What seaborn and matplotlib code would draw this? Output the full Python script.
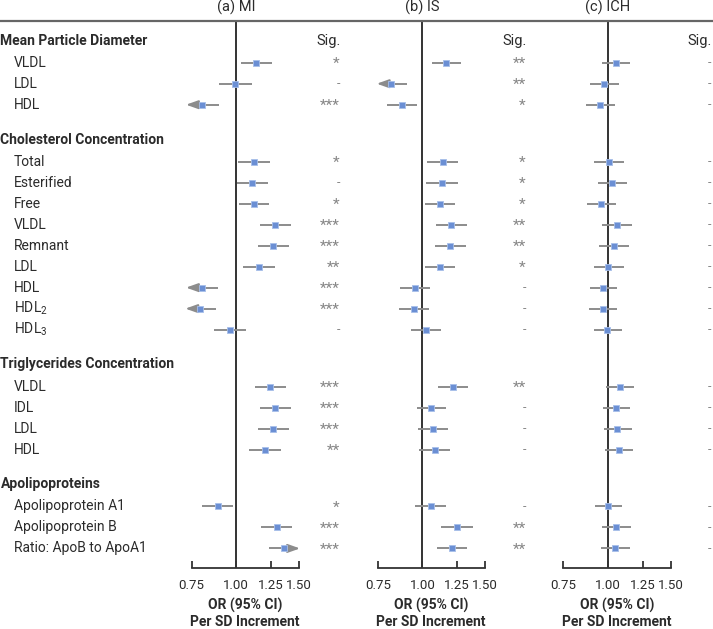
import numpy as np
import pandas as pd
import matplotlib
matplotlib.use("Agg")
import matplotlib.pyplot as plt
import matplotlib.transforms as mtransforms
from matplotlib.lines import Line2D
from matplotlib.ticker import NullLocator
import seaborn as sns

sns.set_theme(style="white")
plt.rcParams['font.family'] = ['Roboto', 'DejaVu Sans']
plt.rcParams['mathtext.fontset'] = 'custom'
plt.rcParams['mathtext.rm'] = 'Roboto'

# --- data -------------------------------------------------------------------
group_names = ["Mean Particle Diameter", "Cholesterol Concentration",
               "Triglycerides Concentration", "Apolipoproteins"]
group_sizes = [3, 9, 4, 3]
item_labels = ["VLDL", "LDL", "HDL",
               "Total", "Esterified", "Free", "VLDL", "Remnant", "LDL", "HDL",
               r"HDL$_{\mathrm{2}}$", r"HDL$_{\mathrm{3}}$",
               "VLDL", "IDL", "LDL", "HDL",
               "Apolipoprotein A1", "Apolipoprotein B", "Ratio: ApoB to ApoA1"]
panel_titles = ["(a) MI", "(b) IS", "(c) ICH"]

mi_or = [1.133, 0.990, 0.800,
         1.123, 1.107, 1.119, 1.284, 1.267, 1.155, 0.800, 0.791, 0.958,
         1.245, 1.286, 1.267, 1.203,
         0.887, 1.297, 1.363]
mi_lo = [1.029, 0.894, 0.723,
         1.011, 1.005, 1.020, 1.165, 1.148, 1.044, 0.723, 0.720, 0.868,
         1.130, 1.165, 1.148, 1.088,
         0.803, 1.170, 1.237]
mi_hi = [1.257, 1.104, 0.894,
         1.245, 1.227, 1.232, 1.420, 1.402, 1.281, 0.887, 0.877, 1.063,
         1.375, 1.420, 1.402, 1.332,
         0.981, 1.435, 1.508]
mi_sig = ["*", "-", "***",
          "*", "-", "*", "***", "***", "**", "***", "***", "-",
          "***", "***", "***", "**",
          "*", "***", "***"]

is_or = [1.167, 0.817, 0.877,
         1.140, 1.135, 1.118, 1.206, 1.195, 1.121, 0.954, 0.946, 1.024,
         1.219, 1.060, 1.069, 1.083,
         1.055, 1.247, 1.208]
is_lo = [1.067, 0.745, 0.798,
         1.031, 1.026, 1.017, 1.094, 1.083, 1.017, 0.866, 0.860, 0.932,
         1.106, 0.966, 0.970, 0.981,
         0.956, 1.130, 1.097]
is_hi = [1.280, 0.904, 0.968,
         1.255, 1.255, 1.234, 1.331, 1.322, 1.237, 1.053, 1.042, 1.130,
         1.342, 1.167, 1.177, 1.192,
         1.162, 1.383, 1.336]
is_sig = ["**", "**", "*",
          "*", "*", "*", "**", "**", "*", "-", "-", "-",
          "**", "-", "-", "-",
          "-", "**", "**"]

ich_or = [1.051, 0.974, 0.950,
          1.006, 1.028, 0.958, 1.058, 1.039, 1.002, 0.968, 0.968, 0.996,
          1.080, 1.053, 1.062, 1.074,
          1.000, 1.053, 1.048]
ich_lo = [0.962, 0.890, 0.869,
          0.916, 0.937, 0.873, 0.962, 0.944, 0.914, 0.889, 0.885, 0.912,
          0.985, 0.966, 0.972, 0.979,
          0.918, 0.960, 0.954]
ich_hi = [1.150, 1.071, 1.044,
          1.109, 1.128, 1.053, 1.165, 1.143, 1.106, 1.060, 1.060, 1.092,
          1.185, 1.155, 1.165, 1.177,
          1.094, 1.162, 1.155]
ich_sig = ["-"] * 19

panels = [(mi_or, mi_lo, mi_hi, mi_sig),
          (is_or, is_lo, is_hi, is_sig),
          (ich_or, ich_lo, ich_hi, ich_sig)]

# --- layout -----------------------------------------------------------------
W, H = 713, 629
TOP_PX, BOT_PX = 21, 568
PX_PER_LN = 155.0
XMIN, XMAX = 0.70, 1.60
one_px = [236.3, 422.4, 608.0]

txt = '#2b2b2b'
sq_color = '#6b8fd4'
ci_color = '#8c8c8c'

# row positions: 1 unit per row, extra gap between groups
ypos, head_y = [], []
y = 0.0
for k, n in enumerate(group_sizes):
    if k > 0:
        y += 1.71
    head_y.append(y - 1.05)
    for i in range(n):
        ypos.append(y)
        y += 1
ylim = ((BOT_PX - 62.7) / 21.0, (TOP_PX - 62.7) / 21.0)

fig = plt.figure(figsize=(W / 100, H / 100), dpi=100)

axes = []
for p, (vals, lo, hi, sig) in enumerate(panels):
    left = one_px[p] + PX_PER_LN * np.log(XMIN)
    width = PX_PER_LN * np.log(XMAX / XMIN)
    ax = fig.add_axes([left / W, 1 - BOT_PX / H, width / W, (BOT_PX - TOP_PX) / H])
    ax.patch.set_alpha(0)
    axes.append(ax)

    df = pd.DataFrame({'y': ypos, 'OR': vals, 'lo': lo, 'hi': hi, 'sig': sig})

    # confidence intervals, arrows where they leave the 0.75-1.50 range
    for _, r in df.iterrows():
        a = r['lo'] if r['lo'] >= 0.75 else r['OR']
        b = r['hi'] if r['hi'] <= 1.5 else r['OR']
        ax.hlines(r['y'], a, b, color=ci_color, lw=1.4, zorder=2)
        for end, out in ((r['lo'], r['lo'] < 0.75), (r['hi'], r['hi'] > 1.5)):
            if out:
                ax.annotate('', xy=(end, r['y']), xytext=(r['OR'], r['y']),
                            arrowprops=dict(arrowstyle='-|>,head_length=0.9,head_width=0.32',
                                            color=ci_color, lw=1.4, shrinkA=0, shrinkB=0,
                                            mutation_scale=8), zorder=2)

    ax.axvline(1.0, color='#333333', lw=1.4, zorder=1)
    sns.scatterplot(data=df, x='OR', y='y', marker='s', s=24, color=sq_color,
                    edgecolor='#a8bfe9', linewidth=0.6, ax=ax, zorder=3, legend=False)

    ax.set_xscale('log')
    ax.set_xlim(XMIN, XMAX)
    ax.set_ylim(*ylim)
    for s in ['left', 'top', 'right']:
        ax.spines[s].set_visible(False)
    ax.spines['bottom'].set_bounds(0.75, 1.5)
    ax.spines['bottom'].set_color('#333333')
    ax.spines['bottom'].set_linewidth(1.3)
    ax.set_yticks([])
    ax.set_ylabel('')
    ax.set_xticks([0.75, 1.0, 1.25, 1.5])
    ax.set_xticklabels(['0.75', '1.00', '1.25', '1.50'])
    ax.xaxis.set_minor_locator(NullLocator())
    ax.tick_params(axis='x', direction='in', length=5, width=1.3, color='#333333',
                   labelsize=9.5, labelcolor=txt, pad=8, bottom=True)
    ax.set_xlabel("OR (95% CI)\nPer SD Increment", fontweight='bold', fontsize=10,
                  color=txt, labelpad=4, linespacing=1.2)

    ax.text(1.0, 1 + 13.5 / (BOT_PX - TOP_PX), panel_titles[p], transform=ax.get_xaxis_transform(),
            ha='center', va='center', fontsize=10.5, color=txt)
    ax.text(1.955, head_y[0], 'Sig.', ha='right', va='center', fontsize=10.5,
            color=txt, clip_on=False)
    for _, r in df.iterrows():
        star = r['sig'] != '-'
        ax.text(1.95, r['y'] + (0.05 if star else 0), r['sig'], ha='right', va='center',
                fontsize=11 if star else 9, color='#888888', clip_on=False)

# row and group labels on the left
trans = mtransforms.blended_transform_factory(fig.transFigure, axes[0].transData)
for name, hy in zip(group_names, head_y):
    axes[0].text(0.5 / W, hy, name, transform=trans, ha='left', va='center',
                 fontsize=10, fontweight='bold', color=txt)
for lab, yy in zip(item_labels, ypos):
    axes[0].text(14 / W, yy, lab, transform=trans, ha='left', va='center',
                 fontsize=10, color=txt)

fig.add_artist(Line2D([0, 1], [1 - 20.7 / H] * 2, transform=fig.transFigure,
                      color='#666666', lw=1.6))

fig.savefig('out.png', dpi=100)
